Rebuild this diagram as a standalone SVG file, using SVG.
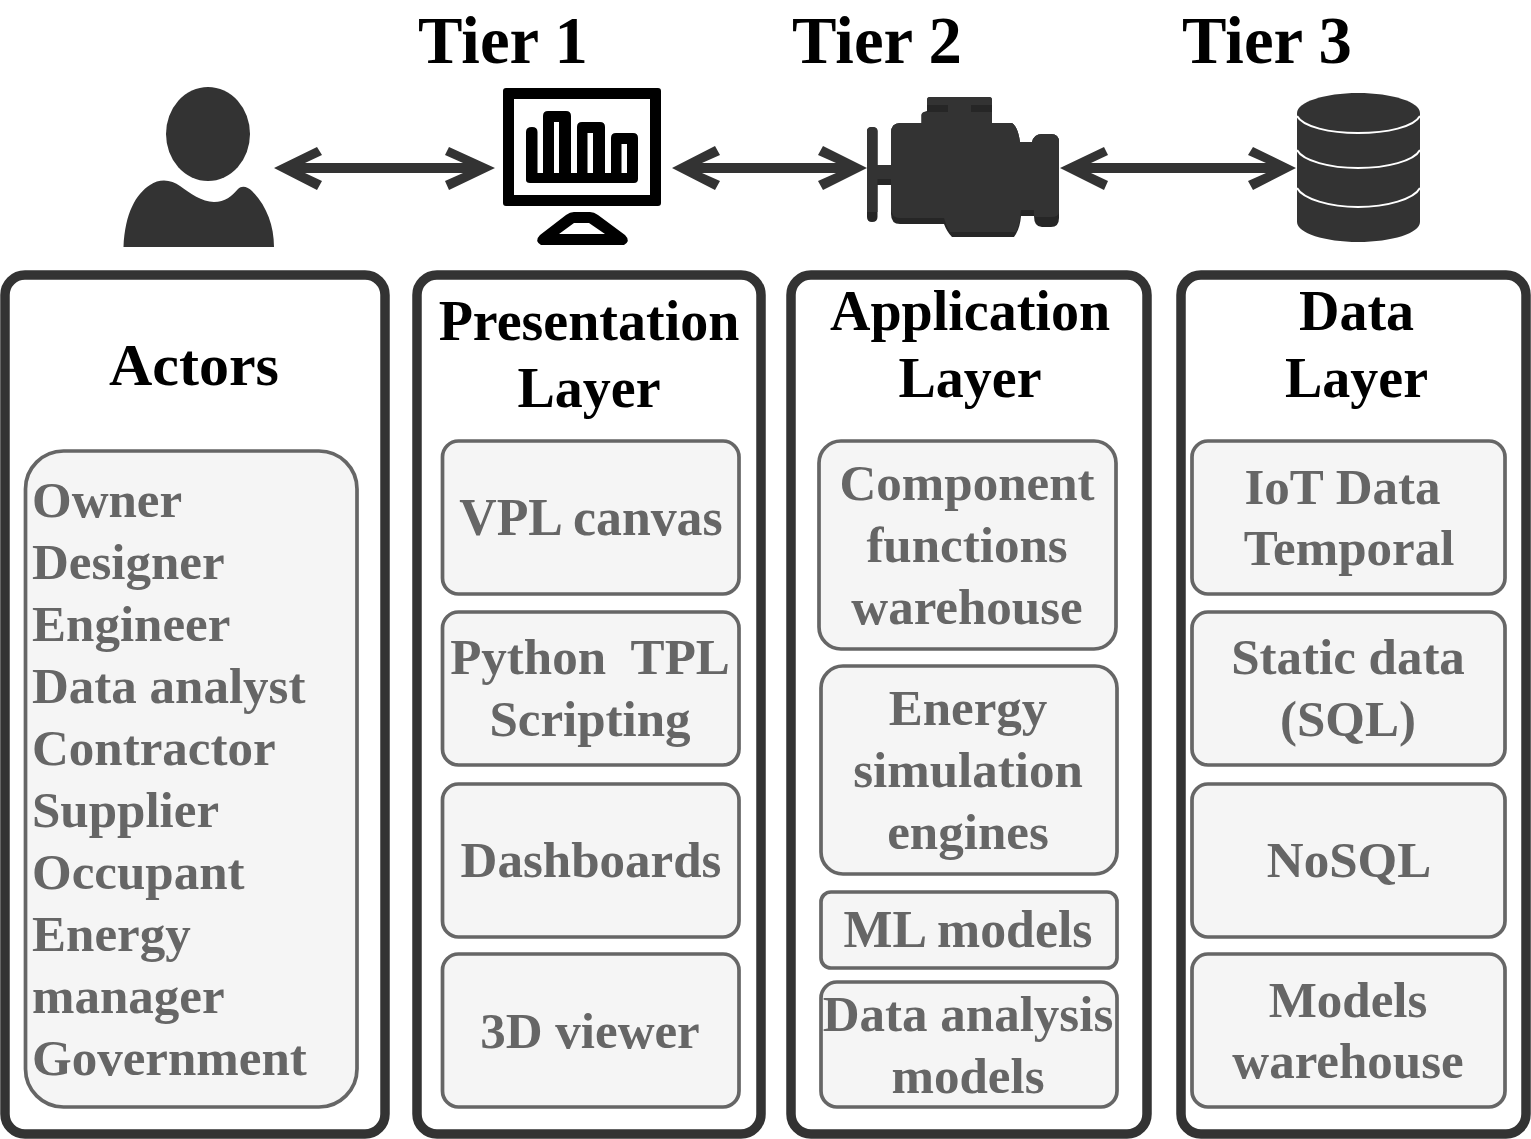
<svg xmlns="http://www.w3.org/2000/svg" width="1531" height="1139" viewBox="0 0 1531 1139">
<style>
text{font-family:"Liberation Serif","Times New Roman",serif;font-weight:700;text-anchor:middle}
.t{font-size:66.7px;fill:#000}
.h{font-size:56px;fill:#000}
.b{font-size:51px;fill:#666}
.w{font-size:51.800px}
.l{text-anchor:start}
.o{fill:#fff;stroke:#333;stroke-width:9.500}
.i{fill:#f5f5f5;stroke:#666;stroke-width:3.700}
.c{fill:#333}
.d{fill:#262626}
</style>
<rect width="1531" height="1139" fill="#fff"/>
<g id="tiers"><text class="t" x="503" y="63">Tier 1</text><text class="t" x="877" y="63">Tier 2</text><text class="t" x="1267" y="63">Tier 3</text></g>
<g id="actor-icon"><ellipse class="c" cx="208" cy="134" rx="42" ry="47"/><path class="c" d="M123.500 247C125 213 136 194 150 185C160 178 172 180 180 186C190 193 202 202 214 202C225 202 232 196 238 189C242 185 248 187 252 191C266 205 274 225 274 247Z"/></g>
<g id="monitor-icon" fill="#000" fill-rule="evenodd"><path d="M506 88H658Q661 88 661 91V203Q661 206 658 206H506Q503 206 503 203V91Q503 88 506 88ZM514 99V195H650V99Z"/><path d="M526 180V132Q526 127 532 127Q537.500 127 537.500 132V173H543V116Q543 111 548 111H566Q571 111 571 116V173H577V127Q577 122 582 122H600Q605 122 605 127V173H611V138Q611 133 616 133H633Q638 133 638 138V179Q638 183 634 183H530Q526 183 526 180ZM554 122V173H559V122ZM587.500 133V173H593V133ZM621.500 144V173H627V144Z"/><path d="M540 235L566 215Q570 212 574 212H590Q594 212 598 215L625 235Q631 241 624 245H541Q534 241 540 235ZM574 223L559 234H605L589 223Z"/></g>
<g id="engine-icon"><path class="d" d="M867 131Q867 127 872 127Q877.500 127 877.500 131V165H891V133Q891 123 900 123H921.500V115Q921.500 112 927 111V100Q927 97 930 97H989Q992 97 992 100V123H1012Q1018 127 1020 142H1032Q1034 134 1042 134H1051Q1059 134 1059 142V218Q1059 227 1051 227H1042Q1034 227 1034 216H1021Q1020 229 1014 237H952Q947 232 944 224H900Q891 224 891 214V185H877.500V217Q877.500 222 872 222Q867 222 867 217Z"/><path class="c" d="M867 131Q867 127 872 127Q877.500 127 877.500 131V165H891V133Q891 123 900 123H921.500V115Q921.500 112 927 112H948V105H971V112H992V123H1012Q1018 127 1020 142H1032Q1034 134 1042 134H1051Q1059 134 1059 142V212Q1059 217 1051 217H1034V210H1021Q1020 224 1016 232H950Q946 226 944 218H900Q891 218 891 208V179H877.500V212H867Z"/><path class="c" d="M927 105V100Q927 97 930 97H989Q992 97 992 100V105Z"/></g>
<g id="database-icon"><path class="c" d="M1297 113C1297 102 1325 93 1358 93C1392 93 1420 102 1420 113V222C1420 233 1392 242 1358 242C1325 242 1297 233 1297 222Z"/><path d="M1297 116C1303 127 1330 133 1358 133C1387 133 1414 127 1420 116M1297 150C1303 161 1330 168 1358 168C1387 168 1414 161 1420 150M1297 188C1303 199 1330 207 1358 207C1387 207 1414 199 1420 188" fill="none" stroke="#fff" stroke-width="2"/></g>
<g id="connectors" class="c">
<path d="M274 168L317 147L322 155L305 163H463L445 155L449 147L495 168L449 190L445 181L463 173H305L322 181L317 190Z"/>
<path d="M672 168L715 146L720 155L702 163H836L818 155L823 146L867 168L823 190L818 181L836 173H702L720 181L715 190Z"/>
<path d="M1060 168L1104 147L1108 155L1091 163H1266L1248 155L1253 147L1296 168L1253 190L1248 181L1266 173H1091L1108 181L1104 190Z"/>
</g>
<g id="actors"><rect class="o" x="5" y="275" width="380" height="859" rx="20"/><text style="font-size:60px;fill:#000" x="194" y="385">Actors</text><rect class="i" x="25.500" y="451" width="331.500" height="656" rx="38"/>
<text class="b l" x="32" y="517">Owner</text><text class="b l" x="32" y="579">Designer</text><text class="b l" x="32" y="641">Engineer</text><text class="b l" x="32" y="703">Data analyst</text><text class="b l" x="32" y="765">Contractor</text><text class="b l" x="32" y="827">Supplier</text><text class="b l" x="32" y="889">Occupant</text><text class="b l" x="32" y="951">Energy</text><text class="b l" x="32" y="1013">manager</text><text class="b l" x="32" y="1075">Government</text></g>
<g id="presentation"><rect class="o" x="417" y="275" width="344" height="859" rx="20"/><text class="h" x="589" y="340">Presentation</text><text class="h" x="589" y="407">Layer</text>
<rect class="i" x="442.500" y="441" width="296.500" height="153" rx="16"/><text class="b w" x="591" y="535">VPL canvas</text>
<rect class="i" x="442.500" y="612" width="296.500" height="153" rx="16"/><text class="b" x="590" y="674" xml:space="preserve">Python  TPL</text><text class="b" x="590" y="736">Scripting</text>
<rect class="i" x="442.500" y="784" width="296.500" height="153" rx="16"/><text class="b" x="591" y="877">Dashboards</text>
<rect class="i" x="442.500" y="954" width="296.500" height="153" rx="16"/><text class="b" x="590" y="1048">3D viewer</text></g>
<g id="application"><rect class="o" x="791" y="275" width="356" height="859" rx="20"/><text class="h" x="970" y="330">Application</text><text class="h" x="970" y="397">Layer</text>
<rect class="i" x="819" y="441" width="297" height="208" rx="22"/><text class="b" x="967" y="500">Component</text><text class="b" x="967" y="562">functions</text><text class="b" x="967" y="624">warehouse</text>
<rect class="i" x="821" y="666" width="296" height="208" rx="22"/><text class="b" x="968" y="725">Energy</text><text class="b" x="968" y="787">simulation</text><text class="b" x="968" y="849">engines</text>
<rect class="i" x="821" y="892" width="296" height="76" rx="10"/><text class="b w" x="968" y="947">ML models</text>
<rect class="i" x="821" y="982" width="296" height="125" rx="16"/><text class="b" x="968" y="1031">Data analysis</text><text class="b" x="968" y="1093">models</text></g>
<g id="data"><rect class="o" x="1181" y="275" width="345" height="859" rx="20"/><text class="h" x="1356.500" y="330">Data</text><text class="h" x="1356.500" y="397">Layer</text>
<rect class="i" x="1192" y="441" width="313" height="153" rx="16"/><text class="b" x="1342.500" y="504">IoT Data</text><text class="b" x="1349" y="565">Temporal</text>
<rect class="i" x="1192" y="612" width="313" height="153" rx="16"/><text class="b" x="1348" y="674">Static data</text><text class="b" x="1348" y="736">(SQL)</text>
<rect class="i" x="1192" y="784" width="313" height="153" rx="16"/><text class="b" x="1349" y="877">NoSQL</text>
<rect class="i" x="1192" y="954" width="313" height="153" rx="16"/><text class="b" x="1348" y="1017">Models</text><text class="b" x="1348" y="1078">warehouse</text></g>
</svg>
